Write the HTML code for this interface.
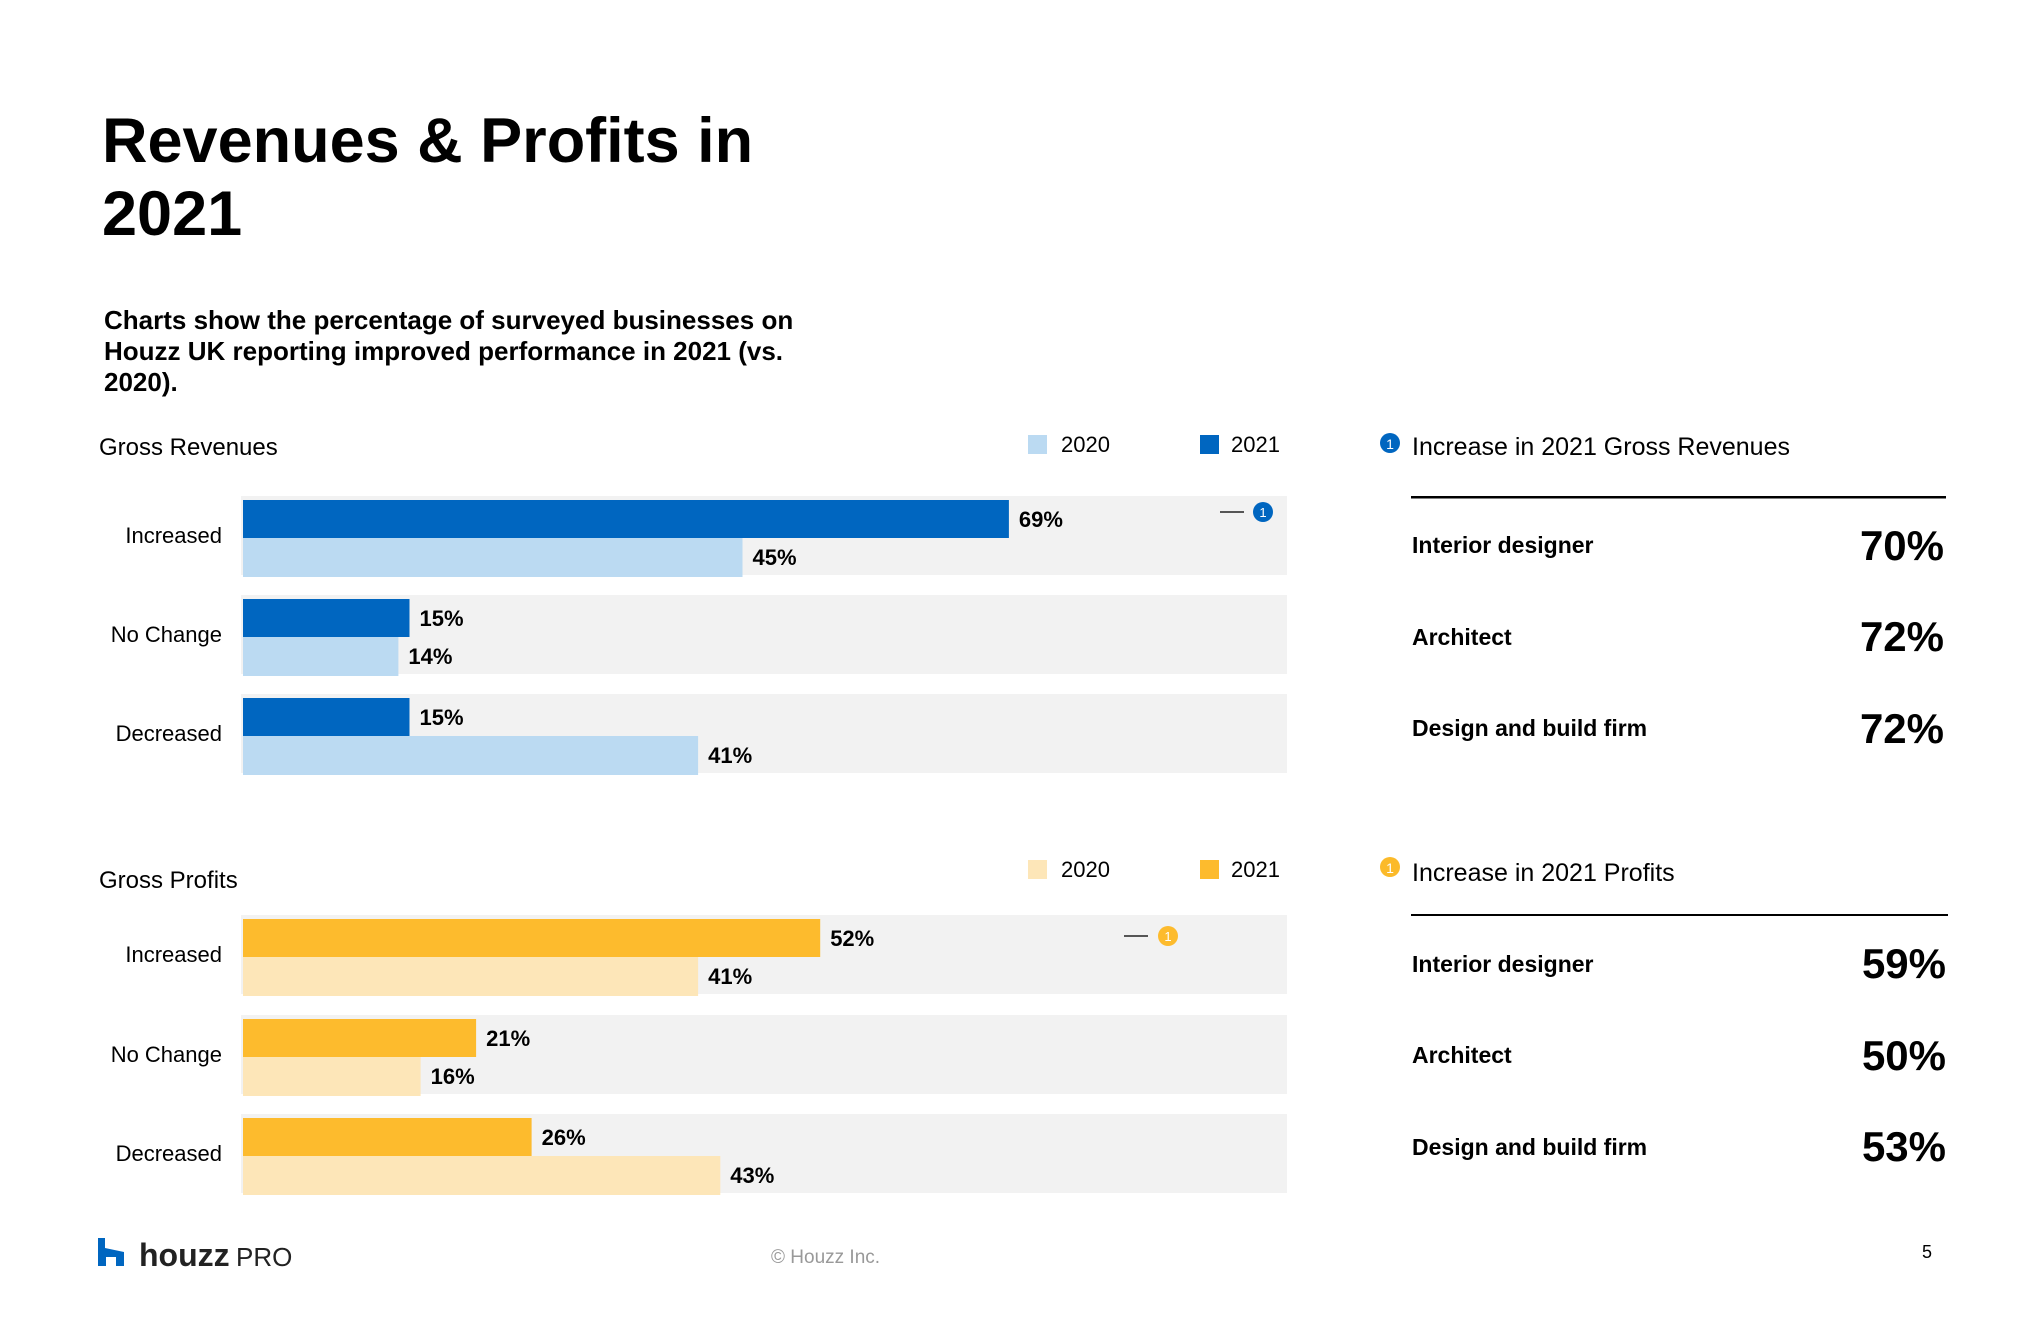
<!DOCTYPE html>
<html><head><meta charset="utf-8"><style>
html,body{margin:0;padding:0;background:#fff;}
svg{display:block;}
text{font-family:"Liberation Sans",sans-serif;}
</style></head><body>
<svg id="root" width="2040" height="1320" viewBox="0 0 2040 1320" xmlns="http://www.w3.org/2000/svg">
<text x="102" y="162" font-size="63" font-weight="bold" fill="#000">Revenues &amp; Profits in</text>
<text x="102" y="235" font-size="63" font-weight="bold" fill="#000">2021</text>
<g font-size="26" font-weight="bold" fill="#000">
<text x="104" y="329">Charts show the percentage of surveyed businesses on</text>
<text x="104" y="360">Houzz UK reporting improved performance in 2021 (vs.</text>
<text x="104" y="391">2020).</text>
</g>
<text x="99" y="455" font-size="24" fill="#000">Gross Revenues</text>
<text x="99" y="888" font-size="24" fill="#000">Gross Profits</text>
<g id="charts"></g>
<g>
<circle cx="1390" cy="443" r="10" fill="#0066c0"/>
<text x="1390" y="449" font-size="14" fill="#fff" text-anchor="middle">1</text>
<text x="1412" y="455" font-size="25" fill="#000">Increase in 2021 Gross Revenues</text>
<rect x="1411" y="496" width="535" height="2.5" fill="#000"/>
<g font-size="23" font-weight="bold" fill="#000">
<text x="1412" y="553">Interior designer</text>
<text x="1412" y="645">Architect</text>
<text x="1412" y="736">Design and build firm</text>
</g>
<g font-size="42" font-weight="bold" fill="#000" text-anchor="end">
<text x="1944" y="560">70%</text>
<text x="1944" y="651">72%</text>
<text x="1944" y="743">72%</text>
</g>
</g>
<g>
<circle cx="1390" cy="867" r="10" fill="#fbba2a"/>
<text x="1390" y="873" font-size="14" fill="#fff" text-anchor="middle">1</text>
<text x="1412" y="881" font-size="25" fill="#000">Increase in 2021 Profits</text>
<rect x="1411" y="914" width="537" height="2" fill="#000"/>
<g font-size="23" font-weight="bold" fill="#000">
<text x="1412" y="972">Interior designer</text>
<text x="1412" y="1063">Architect</text>
<text x="1412" y="1155">Design and build firm</text>
</g>
<g font-size="42" font-weight="bold" fill="#000" text-anchor="end">
<text x="1946" y="978">59%</text>
<text x="1946" y="1070">50%</text>
<text x="1946" y="1161">53%</text>
</g>
</g>
<g>
<path d="M98 1238 h7 v10 l19 4 v14 h-8 v-9 h-10 v9 h-8 z" fill="#0066c0"/>
<text x="139" y="1266" font-size="32" font-weight="bold" fill="#222">houzz</text>
<text x="236" y="1266" font-size="26" fill="#222">PRO</text>
</g>
<text x="771" y="1263" font-size="19" fill="#999">© Houzz Inc.</text>
<text x="1922" y="1258" font-size="18" fill="#000">5</text>
</svg>
<script>
const categories = ["Increased", "No Change", "Decreased"];
const revenues2021 = [69, 15, 15];
const revenues2020 = [45, 14, 41];
const profits2021 = [52, 21, 26];
const profits2020 = [41, 16, 43];
const legendLabels = ["2020", "2021"];

const NS = "http://www.w3.org/2000/svg";
const g = document.getElementById("charts");
function mk(tag, attrs, parent) {
  const e = document.createElementNS(NS, tag);
  for (const k in attrs) e.setAttribute(k, attrs[k]);
  (parent || g).appendChild(e);
  return e;
}
const X0 = 243, PER = 11.1, BAND_R = 1287;
function xScale(v) { return X0 + v * PER; }

function drawChart(key, bandTops, v21, v20, c21, c20, legendY, marker) {
  const sq1 = mk("rect", {x: 1028, y: legendY, width: 19, height: 19, fill: c20});
  
  
  const t1 = mk("text", {x: 1061, y: legendY + 17, "font-size": 22, fill: "#000"});
  t1.textContent = legendLabels[0];
  
  
  const sq2 = mk("rect", {x: 1200, y: legendY, width: 19, height: 19, fill: c21});
  
  
  const t2 = mk("text", {x: 1231, y: legendY + 17, "font-size": 22, fill: "#000"});
  t2.textContent = legendLabels[1];
  
  

  categories.forEach((c, i) => {
    const top = bandTops[i];
    const band = mk("rect", {x: 241, y: top, width: BAND_R - 241, height: 79, fill: "#f2f2f2"});
    
    
    const lab = mk("text", {x: 222, y: top + 47, "font-size": 22, fill: "#000", "text-anchor": "end"});
    lab.textContent = c;
    
    
    const b1 = mk("rect", {x: X0, y: top + 4, width: xScale(v21[i]) - X0, height: 38, fill: c21});
    
    
    const b2 = mk("rect", {x: X0, y: top + 42, width: xScale(v20[i]) - X0, height: 39, fill: c20});
    
    
    const l1 = mk("text", {x: xScale(v21[i]) + 10, y: top + 31, "font-size": 22, "font-weight": "bold", fill: "#000"});
    l1.textContent = v21[i] + "%";
    
    
    const l2 = mk("text", {x: xScale(v20[i]) + 10, y: top + 69, "font-size": 22, "font-weight": "bold", fill: "#000"});
    l2.textContent = v20[i] + "%";
    
    
  });
  const ln = mk("line", {x1: marker[0], y1: marker[2], x2: marker[0] + 24, y2: marker[2], stroke: "#222", "stroke-width": 1.5});
  
  
  const ci = mk("circle", {cx: marker[1], cy: marker[2], r: 10, fill: c21});
  
  
  const ct = mk("text", {x: marker[1], y: marker[2] + 5, "font-size": 13, fill: "#fff", "text-anchor": "middle"});
  ct.textContent = "1";
  
  
}
drawChart("revenues", [496, 595, 694], revenues2021, revenues2020, "#0066c0", "#bbdaf2", 435, [1220, 1263, 512]);
drawChart("profits", [915, 1015, 1114], profits2021, profits2020, "#fdbb2d", "#fde6b8", 860, [1124, 1168, 936]);
</script>
</body></html>
